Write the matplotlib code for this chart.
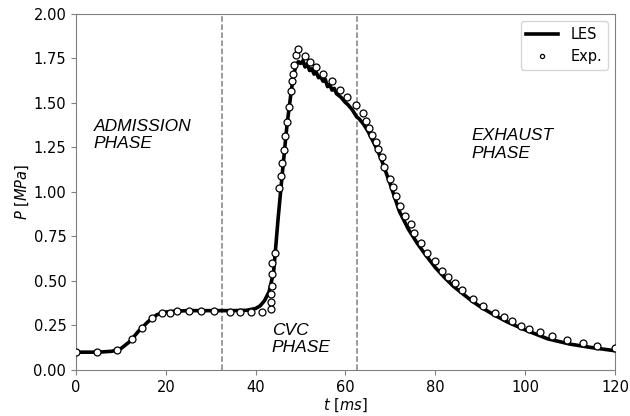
import numpy as np
import matplotlib
matplotlib.use('Agg')
import matplotlib.pyplot as plt

# LES pressure trace
t_les = [0, 5, 8, 10, 12, 14, 16, 18, 20, 22, 25, 30, 35, 38, 40, 41, 42, 43, 44,
         45, 46, 47, 48, 48.5, 49, 49.5, 50, 50.5, 51, 51.5, 52, 52.5, 53, 53.5,
         54, 54.5, 55, 55.5, 56, 56.5, 57, 57.5, 58, 58.5, 59, 59.5, 60, 60.5,
         61, 61.5, 62, 62.5, 63, 64, 65, 66, 67, 68, 69, 70, 72, 74, 76, 78, 80,
         82, 84, 86, 88, 90, 93, 96, 100, 105, 110, 115, 120]
p_les = [0.10, 0.10, 0.105, 0.12, 0.16, 0.22, 0.27, 0.31, 0.325, 0.33, 0.333,
         0.333, 0.333, 0.335, 0.345, 0.36, 0.39, 0.44, 0.55, 0.85, 1.12, 1.38,
         1.58, 1.66, 1.71, 1.73, 1.72, 1.735, 1.70, 1.72, 1.68, 1.69, 1.66,
         1.67, 1.64, 1.645, 1.62, 1.63, 1.59, 1.60, 1.57, 1.58, 1.55, 1.54,
         1.53, 1.515, 1.50, 1.49, 1.475, 1.46, 1.44, 1.42, 1.41, 1.38, 1.34,
         1.29, 1.24, 1.18, 1.11, 1.04, 0.89, 0.79, 0.71, 0.64, 0.575, 0.52,
         0.47, 0.43, 0.39, 0.355, 0.31, 0.27, 0.225, 0.175, 0.145, 0.125, 0.108]

# experimental measurements
t_exp = [0, 4.6, 9.2, 12.5, 14.6, 17.0, 19.2, 20.9, 22.6, 25.1, 27.9, 30.7,
         34.3, 36.5, 38.9, 41.4, 43.5, 43.5, 43.5, 43.6, 43.7, 43.7, 44.2,
         45.2, 45.7, 45.9, 46.2, 46.5, 46.9, 47.4, 47.8, 48.2, 48.4, 48.6,
         48.9, 49.5, 51.0, 52.0, 53.5, 55.1, 57.0, 58.7, 60.4, 62.3, 63.8,
         64.6, 65.3, 65.9, 66.7, 67.3, 68.1, 68.6, 69.8, 70.5, 71.3, 72.2,
         73.3, 74.5, 75.3, 76.9, 78.2, 80.0, 81.5, 82.8, 84.3, 86.0, 88.3,
         90.6, 93.2, 95.2, 97.0, 99.0, 100.9, 103.3, 106.0, 109.3, 112.8,
         116.0, 119.9]
p_exp = [0.10, 0.10, 0.112, 0.176, 0.236, 0.292, 0.322, 0.322, 0.33, 0.33,
         0.33, 0.33, 0.328, 0.327, 0.326, 0.325, 0.341, 0.38, 0.425, 0.47,
         0.537, 0.60, 0.655, 1.019, 1.09, 1.16, 1.236, 1.315, 1.393, 1.474,
         1.566, 1.62, 1.663, 1.71, 1.766, 1.80, 1.764, 1.73, 1.70, 1.663,
         1.62, 1.573, 1.532, 1.487, 1.442, 1.399, 1.358, 1.318, 1.277, 1.24,
         1.193, 1.139, 1.071, 1.024, 0.978, 0.921, 0.865, 0.818, 0.771, 0.71,
         0.659, 0.609, 0.558, 0.524, 0.487, 0.446, 0.40, 0.361, 0.322, 0.296,
         0.277, 0.249, 0.23, 0.212, 0.189, 0.17, 0.15, 0.135, 0.122]

# phase boundaries
t_phase = [32.5, 62.5]

fig = plt.figure(figsize=(6.3, 4.16), dpi=100)
ax = fig.add_axes([0.1206, 0.1106, 0.8556, 0.8569])

ax.plot(t_les, p_les, color='k', linewidth=2.6, label='LES', zorder=2)
ax.plot(t_exp, p_exp, 'o', markerfacecolor='white', markeredgecolor='k',
        markersize=5, markeredgewidth=0.9, label='Exp.', zorder=3)
for tp in t_phase:
    ax.axvline(tp, color='gray', linestyle='--', linewidth=1.1, zorder=1)

phase_font = dict(family='Liberation Sans', style='italic', fontsize=12.5,
                  va='top', ha='left')
ax.text(4.0, 1.41, 'ADMISSION\nPHASE', **phase_font)
ax.text(43.6, 0.265, 'CVC\nPHASE', **phase_font)
ax.text(88.0, 1.355, 'EXHAUST\nPHASE', **phase_font)

ax.set_xlim(0, 120)
ax.set_ylim(0, 2.0)
ax.set_xticks([0, 20, 40, 60, 80, 100, 120])
ax.set_yticks(np.arange(0, 2.01, 0.25))
ax.yaxis.set_major_formatter(matplotlib.ticker.FormatStrFormatter('%.2f'))
ax.tick_params(labelsize=10.5, color='gray')
for s in ax.spines.values():
    s.set_color('gray')
ax.set_xlabel(r'$t\ [ms]$', fontsize=10.5, labelpad=1)
ax.set_ylabel(r'$P\ [MPa]$', fontsize=10.5, labelpad=2)

ax.legend(loc='upper right', fontsize=10.5, markerscale=0.6, handlelength=2.2)

fig.savefig('out.png', dpi=100)
